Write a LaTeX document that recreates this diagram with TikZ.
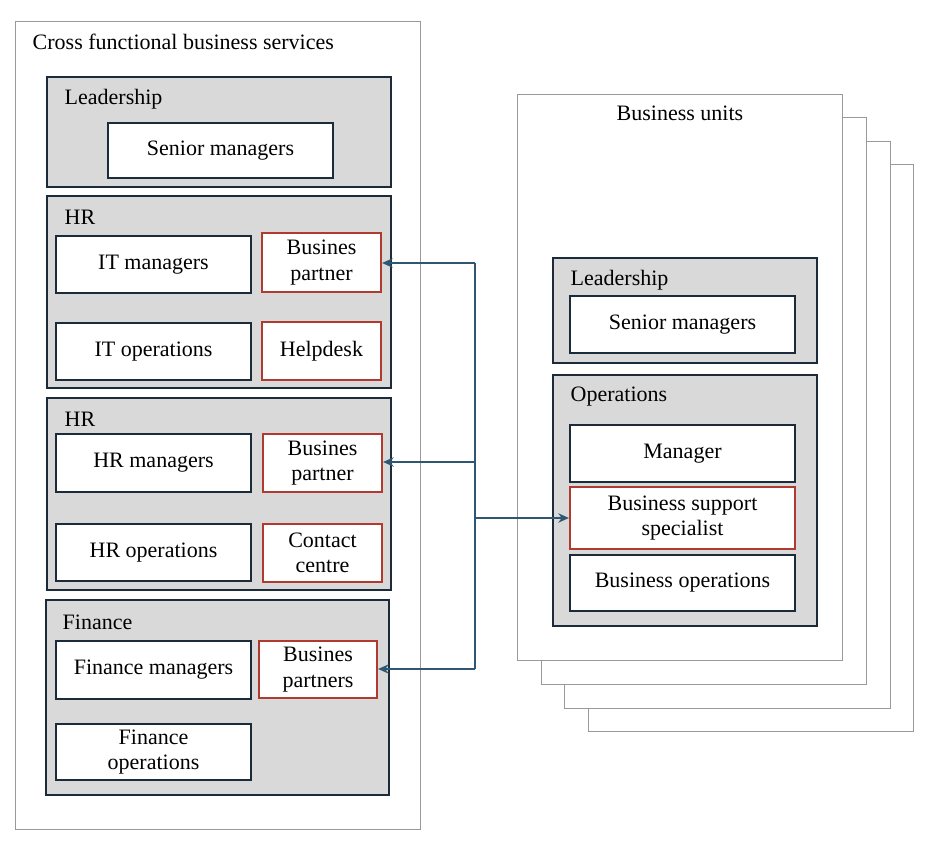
\documentclass[tikz,border=0pt]{standalone}
\usepackage{fontspec}
\setmainfont{Liberation Serif}
\usetikzlibrary{arrows.meta}
\definecolor{dk}{HTML}{1C2B39}
\definecolor{gr}{HTML}{D9D9D9}
\definecolor{rd}{HTML}{B03A2E}
\definecolor{bl}{HTML}{2F5774}
\begin{document}
\begin{tikzpicture}[x=0.75pt,y=-0.75pt,font=\fontsize{16.5}{19}\selectfont,
 outer/.style={draw=gray!80,line width=0.6pt,fill=white},
 grp/.style={draw=dk,line width=1.6pt,fill=gr},
 bx/.style={draw=dk,line width=1.6pt,fill=white,align=center,inner sep=0pt},
 rbx/.style={bx,draw=rd},
 con/.style={draw=bl,line width=1.3pt,-{Stealth[length=8pt,width=7pt]}}]
\useasboundingbox (0,0) rectangle (938,852);
% left
\draw[outer] (15,21) rectangle (420,829);
\node[anchor=west] (t1) at (28,42) {Cross functional business services};
\draw[grp] (47,77) rectangle (391,187);
\node[anchor=west] (l1) at (60,99) {Leadership};
\node[bx,minimum width=168.75pt,minimum height=41.25pt] (sm1) at (220.5,150.5) {Senior managers};
\draw[grp] (47,196) rectangle (391,388);
\node[anchor=west] (hr1) at (60,217) {HR};
\node[bx,minimum width=146.25pt,minimum height=42.75pt] (itm) at (153.5,264.5) {IT managers};
\node[rbx,minimum width=89.25pt,minimum height=44.25pt] (bp1) at (321.5,262.5) {Busines\\partner};
\node[bx,minimum width=146.25pt,minimum height=42.75pt] (ito) at (153.5,351.5) {IT operations};
\node[rbx,minimum width=89.25pt,minimum height=43.5pt] (hd) at (321.5,351) {Helpdesk};
\draw[grp] (47,398) rectangle (391,590);
\node[anchor=west] (hr2) at (60,419) {HR};
\node[bx,minimum width=146.25pt,minimum height=43.5pt] (hrm) at (153.5,463) {HR managers};
\node[rbx,minimum width=89.25pt,minimum height=43.5pt] (bp2) at (322.5,463) {Busines\\partner};
\node[bx,minimum width=146.25pt,minimum height=42.75pt] (hro) at (153.5,552.5) {HR operations};
\node[rbx,minimum width=89.25pt,minimum height=43.5pt] (cc) at (322.5,553) {Contact\\centre};
\draw[grp] (46,600) rectangle (389,795);
\node[anchor=west] (fin) at (58,622) {Finance};
\node[bx,minimum width=146.25pt,minimum height=43.5pt] (fm) at (153.5,670) {Finance managers};
\node[rbx,minimum width=88.5pt,minimum height=42.75pt] (bp3) at (318,669.5) {Busines\\partners};
\node[bx,minimum width=146.25pt,minimum height=42pt] (fo) at (153.5,752) {Finance\\operations};
% right pages
\draw[outer] (588,164) rectangle (913,731);
\draw[outer] (564,141) rectangle (890,708);
\draw[outer] (541,117) rectangle (866,684);
\draw[outer] (517,94) rectangle (842,660);
\node (bu) at (680,113) {Business units};
\draw[grp] (553,258) rectangle (817,363);
\node[anchor=west] (l2) at (566,280) {Leadership};
\node[bx,minimum width=168.75pt,minimum height=42.75pt] (sm2) at (682.5,324.5) {Senior managers};
\draw[grp] (553,375) rectangle (817,626);
\node[anchor=west] (ops) at (566,397) {Operations};
\node[bx,minimum width=168.75pt,minimum height=42.75pt] (mg) at (682.5,453.5) {Manager};
\node[rbx,minimum width=168.75pt,minimum height=46.5pt] (bss) at (682.5,518) {Business support\\specialist};
\node[bx,minimum width=168.75pt,minimum height=42pt] (bo) at (682.5,583) {Business operations};
% connectors
\coordinate (j1) at (475,263);
\coordinate (j2) at (475,462);
\coordinate (j3) at (475,669);
\coordinate (j4) at (475,518);
\draw[bl,line width=1.3pt] (j1) -- (j3);
\draw[con] (j1) -- (bp1.east |- j1);
\draw[con] (j2) -- (bp2.east |- j2);
\draw[con] (j3) -- (bp3.east |- j3);
\draw[con] (j4) -- (bss.west |- j4);
\end{tikzpicture}
\end{document}
